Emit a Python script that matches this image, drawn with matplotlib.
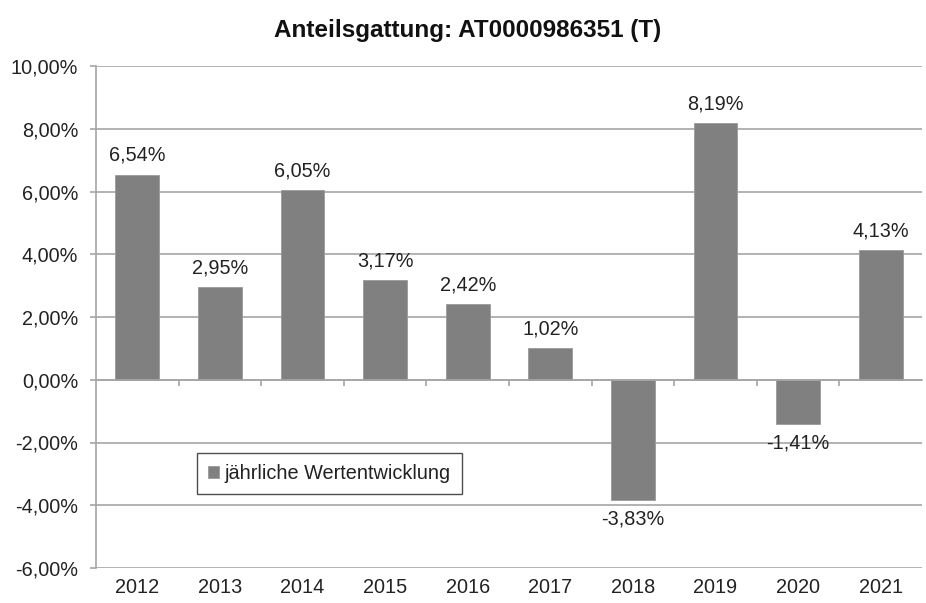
import matplotlib.pyplot as plt
from matplotlib.transforms import blended_transform_factory, offset_copy

years = ["2012", "2013", "2014", "2015", "2016", "2017", "2018", "2019", "2020", "2021"]
values = [6.54, 2.95, 6.05, 3.17, 2.42, 1.02, -3.83, 8.19, -1.41, 4.13]
yticks = [-6, -4, -2, 0, 2, 4, 6, 8, 10]

plt.rcParams["font.family"] = ["Liberation Sans", "DejaVu Sans"]

GRID = "#a6a6a6"
BAR = "#808080"
TXT = "#222222"
FS = 14.3


def fmt(v):
    return f"{v:.2f}".replace(".", ",") + "%"


def main():
    fig = plt.figure(figsize=(9.26, 6.03), dpi=100)
    ax = fig.add_axes([96 / 926, 35 / 603, 826 / 926, 502 / 603])

    x = list(range(len(years)))
    ax.bar(x, values, width=0.53, color=BAR, edgecolor="#9a9a9a", linewidth=0.6,
           label="jährliche Wertentwicklung", zorder=3)

    ax.set_xlim(-0.5, len(years) - 0.5)
    ax.set_ylim(-6, 10)
    ax.set_yticks(yticks)
    ax.set_yticklabels([fmt(t) for t in yticks], fontsize=FS, color=TXT)
    ax.yaxis.grid(True, color=GRID, linewidth=1.2, zorder=0)
    ax.tick_params(axis="y", length=4.3, width=1.2, color=GRID, pad=8.5)

    for s in ["top", "right"]:
        ax.spines[s].set_visible(False)
    ax.spines["left"].set_color(GRID)
    ax.spines["left"].set_linewidth(1.2)
    ax.spines["bottom"].set_position(("data", 0))
    ax.spines["bottom"].set_color(GRID)
    ax.spines["bottom"].set_linewidth(1.2)
    ax.spines["bottom"].set_zorder(4)

    # tick marks on the zero line at category borders
    ax.set_xticks([i + 0.5 for i in x[:-1]])
    ax.set_xticklabels([])
    ax.tick_params(axis="x", length=4.3, color=GRID, width=1.2)

    # year labels under the bottom edge
    trans = offset_copy(blended_transform_factory(ax.transData, ax.transAxes),
                        fig=fig, x=0, y=-7, units="points")
    for i, yr in zip(x, years):
        ax.text(i, 0, yr, transform=trans, ha="center", va="top",
                fontsize=FS, color=TXT)

    # value labels
    for i, v in zip(x, values):
        if v >= 0:
            ax.annotate(fmt(v), (i, v), xytext=(0, 7), textcoords="offset points",
                        ha="center", va="bottom", fontsize=FS, color=TXT)
        else:
            ax.annotate(fmt(v), (i, v), xytext=(0, -7), textcoords="offset points",
                        ha="center", va="top", fontsize=FS, color=TXT)

    fig.text(468 / 926, 1 - 30 / 603, "Anteilsgattung: AT0000986351 (T)",
             fontsize=17.5, fontweight="bold", color="#111111",
             ha="center", va="center")

    leg = ax.legend(loc="lower left", bbox_to_anchor=(0.122, 0.147),
                    fontsize=FS, frameon=True, fancybox=False,
                    handlelength=0.55, handleheight=0.55, handletextpad=0.3,
                    borderpad=0.55, borderaxespad=0)
    leg.get_frame().set_edgecolor("#222222")
    leg.get_frame().set_linewidth(1.0)
    for t in leg.get_texts():
        t.set_color(TXT)

    fig.savefig("out.png", dpi=100)
    plt.close(fig)


if __name__ == "__main__":
    main()
